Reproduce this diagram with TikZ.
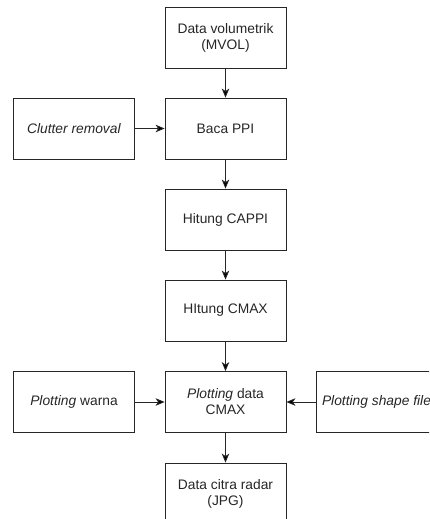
\documentclass[tikz,border=0pt]{standalone}
\usepackage{fontspec}
\setmainfont{Liberation Sans}
\usepackage{tikz}
\usetikzlibrary{arrows.meta,positioning}

\tikzset{
  proc/.style={draw=black!85, line width=0.8pt, minimum width=121pt, minimum height=61pt,
               inner sep=2pt, align=center, text=black!85, font=\fontsize{13.8}{16}\selectfont},
}

\begin{document}
\begin{tikzpicture}[>={Stealth[length=9pt,width=7.5pt,inset=2.5pt]},auto,node distance=91pt,x=1pt,y=1pt]
  \useasboundingbox (0,0) rectangle (429,-519);
  \clip (0,0) rectangle (429,-519);

  \node[proc] (mvol) at (225.5,-37.5) {Data volumetrik\\(MVOL)};
  \node[proc] (ppi)   [below of=mvol] {Baca PPI};
  \node[proc] (cappi) [below of=ppi]   {Hitung CAPPI};
  \node[proc] (cmax)  [below of=cappi] {HItung CMAX};
  \node[proc] (plot)  [below of=cmax, node distance=91.5pt] {\textit{Plotting} data\\CMAX};
  \node[proc] (jpg)   [below of=plot, node distance=91.5pt] {Data citra radar\\(JPG)};

  \node[proc] (clutter) [left of=ppi, node distance=151.5pt] {\textit{Clutter removal}};
  \node[proc] (warna)   [left of=plot, node distance=151.5pt] {\textit{Plotting} warna};
  \node[proc] (shape)   [right of=plot, node distance=151pt] {\textit{Plotting shape file}};

  \path[->,draw=black!85,line width=0.8pt]
        (mvol)    edge (ppi)
        (ppi)     edge (cappi)
        (cappi)   edge (cmax)
        (cmax)    edge (plot)
        (plot)    edge (jpg)
        (clutter) edge (ppi)
        (warna)   edge (plot)
        (shape)   edge (plot);
\end{tikzpicture}
\end{document}
